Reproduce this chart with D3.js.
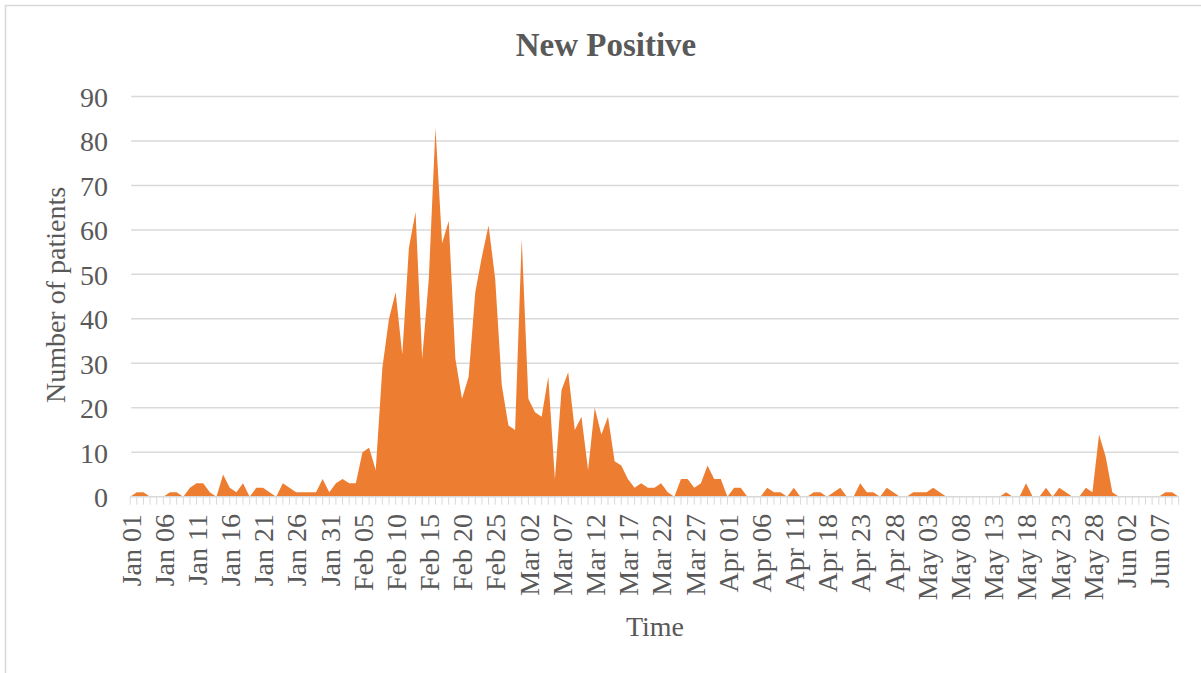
<!DOCTYPE html>
<html>
<head>
<meta charset="utf-8">
<title>New Positive</title>
<script src="https://cdn.jsdelivr.net/npm/d3@7"></script>
<style>
    body { margin:0; background:#fff; }
    text { font-family:"Liberation Serif", "Times New Roman", serif; fill:#595959; }
</style>
</head>
<body>
<div class="canvas"></div>
<script>
/* data, one value per day shown on the axis */
var startDay = new Date(2019, 0, 1),
    endDay = new Date(2019, 5, 11);   // exclusive
var skippedDays = ['Apr 12', 'Apr 13']; // axis jumps from Apr 11 to Apr 18 in 5 steps

var fmt = d3.timeFormat('%b %d');
var categories = d3.timeDay.range(startDay, endDay).map(fmt)
    .filter(function(d){ return skippedDays.indexOf(d) < 0; });

var newPositive = [
    0,1,1,0,0,0,1,1,0,2,
    3,3,1,0,5,2,1,3,0,2,
    2,1,0,3,2,1,1,1,1,4,
    1,3,4,3,3,10,11,6,29,40,
    46,32,56,64,31,49,83,57,62,31,
    22,27,46,54,61,49,25,16,15,58,
    22,19,18,27,4,24,28,15,18,6,
    20,14,18,8,7,4,2,3,2,2,
    3,1,0,4,4,2,3,7,4,4,
    0,2,2,0,0,0,2,1,1,0,
    2,0,0,1,1,0,1,2,0,0,
    3,1,1,0,2,1,0,0,1,1,
    1,2,1,0,0,0,0,0,0,0,
    0,0,1,0,0,3,0,0,2,0,
    2,1,0,0,2,1,14,9,1,0,
    0,0,0,0,0,0,1,1,0
];

var yTicks = [0,10,20,30,40,50,60,70,80,90];
// every 5th category gets a label
var tickLabels = categories.filter(function(d,i){ return i % 5 === 0; });

/* canvas */
var W = 1201, H = 673;
var plotL = 130.2, plotR = 1178.7, plotT = 96.5, plotB = 496.7;

var svg = d3.select('.canvas')
    .append('svg')
    .attr('width', W)
    .attr('height', H);

// chart border (right and bottom edges fall outside the picture)
svg.append('rect')
    .attr('x', 5.5).attr('y', 5.5)
    .attr('width', 1300).attr('height', 800)
    .style('fill', 'none')
    .style('stroke', '#d9d9d9')
    .style('stroke-width', 1.5);

var x = d3.scalePoint()
    .domain(categories)
    .range([plotL, plotR])
    .padding(0);

var y = d3.scaleLinear()
    .domain([0, 90])
    .range([plotB, plotT]);

//gridlines
svg.append('g')
    .selectAll('line')
    .data(yTicks.filter(function(d){ return d > 0; }))
    .enter()
    .append('line')
    .attr('x1', plotL + 1).attr('x2', plotR)
    .attr('y1', function(d){ return y(d); })
    .attr('y2', function(d){ return y(d); })
    .style('stroke', '#d9d9d9')
    .style('stroke-width', 1.5);

//area
var area = d3.area()
    .x(function(d,i){ return x(categories[i]); })
    .y0(y(0))
    .y1(function(d){ return y(d); });

svg.append('path')
    .datum(newPositive)
    .attr('d', area)
    .style('fill', '#ed7d31');

//x axis: line, a tick for every category, label every 5th
var xAxis = d3.axisBottom(x)
    .tickValues(tickLabels)
    .tickSize(0)
    .tickPadding(0);

var gx = svg.append('g')
    .attr('transform', 'translate(0,' + plotB + ')')
    .call(xAxis);
gx.select('.domain').remove();

gx.append('line')
    .attr('x1', plotL).attr('x2', plotR)
    .style('stroke', '#d9d9d9')
    .style('stroke-width', 1.5);

gx.selectAll('.cat-tick')
    .data(categories)
    .enter()
    .append('line')
    .attr('class', 'cat-tick')
    .attr('x1', function(d){ return x(d); })
    .attr('x2', function(d){ return x(d); })
    .attr('y1', 0).attr('y2', 8)
    .style('stroke', '#d9d9d9')
    .style('stroke-width', 1);

gx.selectAll('.tick text')
    .attr('transform', 'translate(0,' + (514 - plotB) + ') rotate(-90)')
    .attr('x', 0).attr('y', 0)
    .attr('dy', '0.35em')
    .style('text-anchor', 'end')
    .style('font-size', '28px')
    .style('font-family', '"Liberation Serif", "Times New Roman", serif')
    .style('fill', '#595959');

//y axis labels
var yAxis = d3.axisLeft(y)
    .tickValues(yTicks)
    .tickSize(0)
    .tickPadding(0);

var gy = svg.append('g')
    .attr('transform', 'translate(108,0)')
    .call(yAxis);
gy.select('.domain').remove();
gy.selectAll('.tick text')
    .attr('dy', '0.35em')
    .style('font-size', '28px')
    .style('font-family', '"Liberation Serif", "Times New Roman", serif')
    .style('fill', '#595959');

//titles
svg.append('text')
    .attr('x', 606).attr('y', 56)
    .attr('text-anchor', 'middle')
    .style('font-size', '33px')
    .style('font-weight', 'bold')
    .text('New Positive');

svg.append('text')
    .attr('transform', 'translate(65,295) rotate(-90)')
    .attr('text-anchor', 'middle')
    .style('font-size', '28px')
    .text('Number of patients');

svg.append('text')
    .attr('x', 655).attr('y', 636)
    .attr('text-anchor', 'middle')
    .style('font-size', '28px')
    .text('Time');
</script>
</body>
</html>
